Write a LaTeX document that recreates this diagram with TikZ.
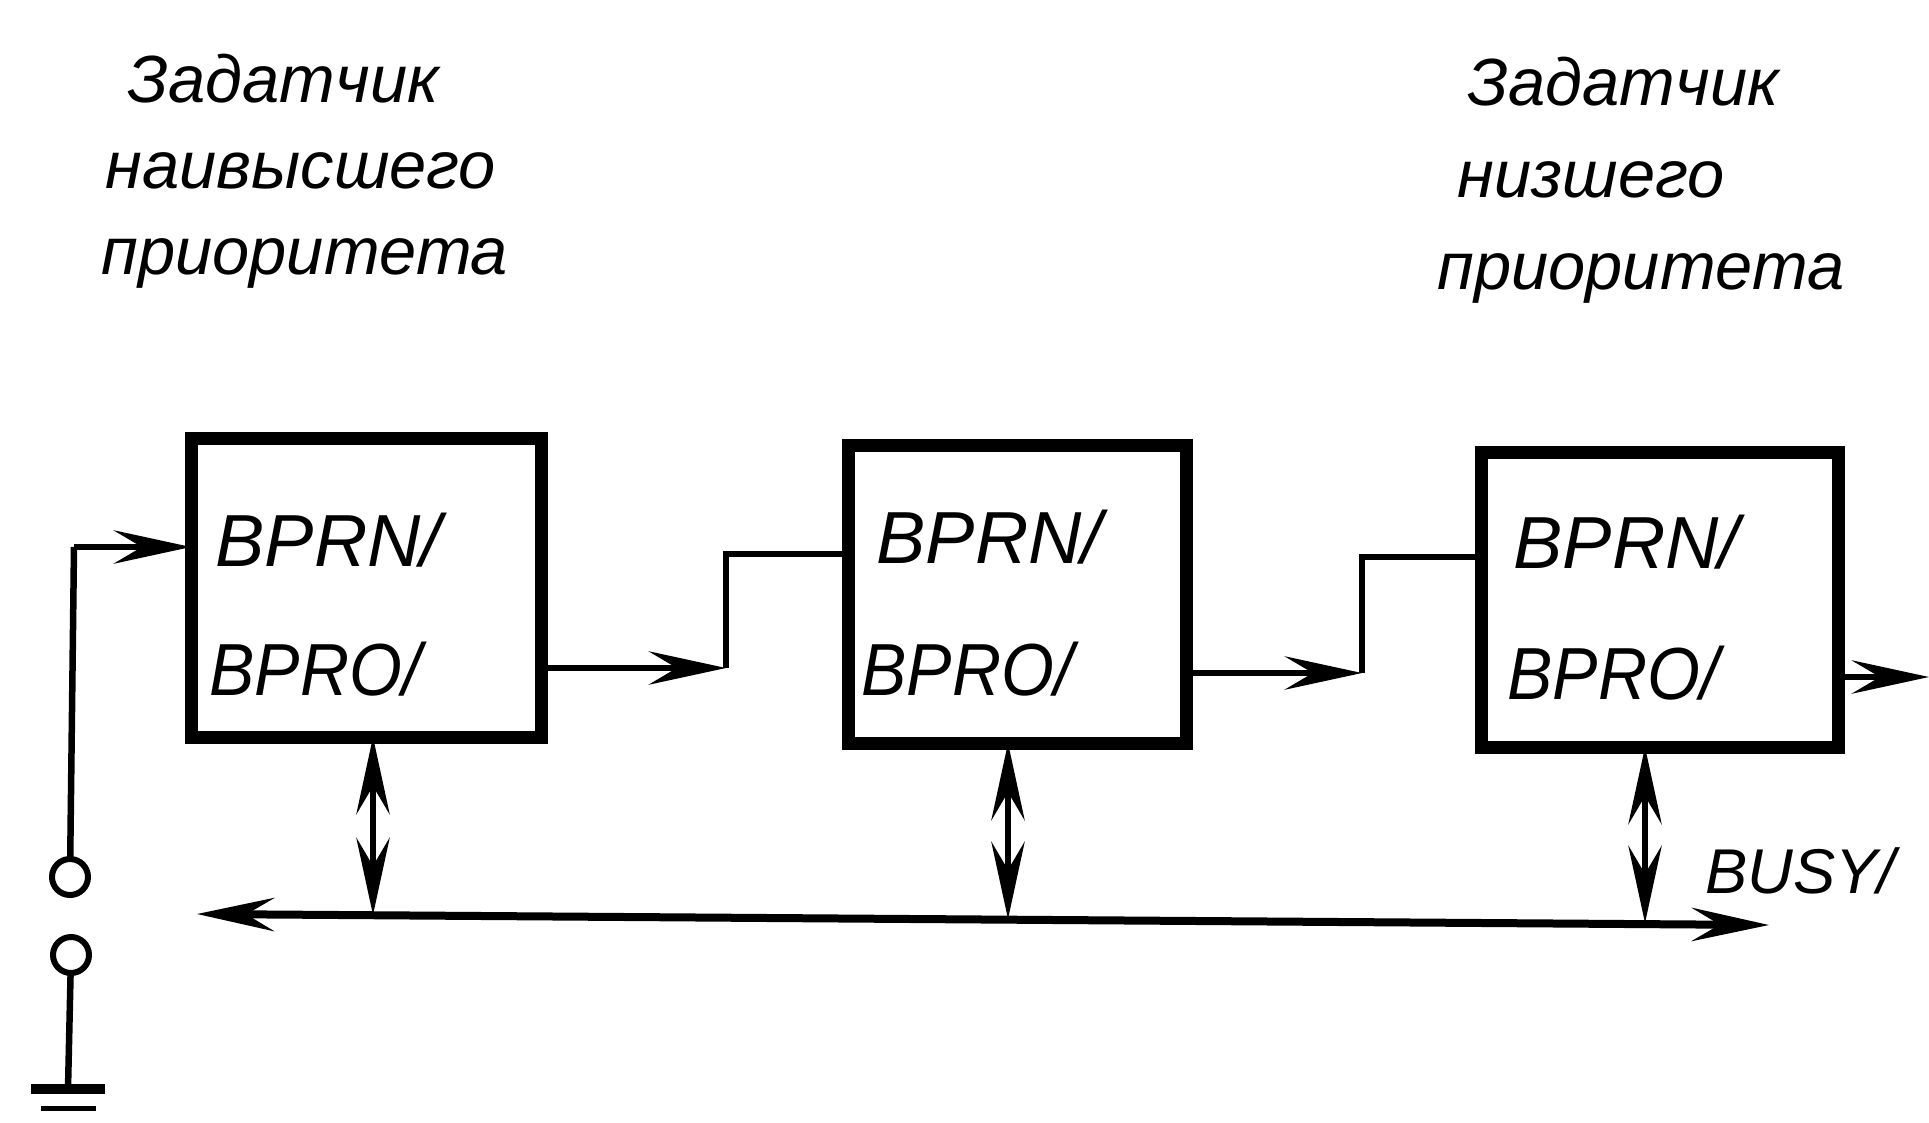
\documentclass[tikz,border=0pt]{standalone}
\usepackage{fontspec}
\setmainfont{Liberation Sans}
\usetikzlibrary{arrows.meta,positioning}
\tikzset{barb/.tip={Stealth[length=22pt,width=9.5pt,inset=8pt]}}

\begin{document}
\begin{tikzpicture}
\tikzstyle{blk}=[draw,line width=.13cm,outer sep=0pt,inner sep=0pt]
\tikzstyle{wire}=[line width=.065cm]
\tikzstyle{term}=[draw,circle,line width=.06cm,minimum size=.36cm,inner sep=0pt,outer sep=0pt]
\tikzstyle{sig}=[anchor=base west,inner sep=0pt,font=\fontsize{21}{26}\selectfont\itshape]
\tikzstyle{sigo}=[sig,xscale=.92,transform shape]
\tikzstyle{capt}=[anchor=west,inner sep=0pt,align=left,font=\fontsize{19}{24.5}\selectfont\itshape]
\useasboundingbox (0,0) rectangle (19.29,11.22);
% captions
\node[capt] (hi) at (1.01,9.51) {\hspace*{.26cm}Задатчик\\\hspace*{.04cm}наивысшего\\приоритета};
\node[capt,font=\fontsize{19}{26.2}\selectfont\itshape] (lo) at (14.37,9.42) {\hspace*{.3cm}Задатчик\\\hspace*{.2cm}низшего\\приоритета};
% blocks
\node[blk,minimum width=3.50cm,minimum height=2.99cm] (box1) at (3.66,5.345) {};
\node[blk,minimum width=3.38cm,minimum height=2.98cm] (box2) at (10.17,5.28) {};
\node[blk,minimum width=3.57cm,minimum height=2.95cm] (box3) at (16.595,5.225) {};
% signals in the blocks
\node[sig] (rn1) at (2.15,5.56) {BPRN/};
\node[sigo] (ro1) at (2.09,4.27) {BPRO/};
\node[sig] (rn2) at (8.76,5.59) {BPRN/};
\node[sigo] (ro2) at (8.61,4.27) {BPRO/};
\node[sig] (rn3) at (15.13,5.54) {BPRN/};
\node[sigo] (ro3) at (15.07,4.23) {BPRO/};
\node[sig,font=\fontsize{18}{26}\selectfont\itshape] (bsy) at (17.05,2.29) {BUSY/};
% switch and ground
\node[term] (t1) at (.70,2.45) {};
\node[term] (t2) at (.71,1.67) {};
\coordinate (gnd) at (.68,.33);
\coordinate (c1) at (.74,5.75);
\draw[wire] (t1) -- (c1);
\draw[wire,-barb] (c1) -- (c1 -| box1.west);
\draw[wire] (t2) -- (gnd);
\draw[line width=.1cm] ([xshift=-.37cm]gnd) -- ([xshift=.37cm]gnd);
\draw[line width=.05cm] ([xshift=-.27cm,yshift=-.19cm]gnd) -- ([xshift=.28cm,yshift=-.19cm]gnd);
% chain between the blocks
\coordinate (m1) at (7.26,4.54);
\coordinate (m2) at (13.62,4.49);
\coordinate (out) at (19.29,4.45);
\draw[wire,-barb] (m1 -| box1.east) -- (m1);
\draw[wire] (m1) |- ([yshift=.40cm]box2.west);
\draw[wire,-barb] (m2 -| box2.east) -- (m2);
\draw[wire] (m2) |- ([yshift=.425cm]box3.west);
\draw[wire,-barb] (out -| box3.east) -- (out);
% bus
\coordinate (busl) at (1.97,2.08);
\coordinate (busr) at (17.69,1.97);
\coordinate (b1) at (3.73,2.07);
\coordinate (b2) at (10.08,2.03);
\coordinate (b3) at (16.45,1.99);
\draw[line width=.08cm,barb-barb] (busl) -- (busr);
\draw[wire,barb-barb] (b1 |- box1.south) -- (b1);
\draw[wire,barb-barb] (b2 |- box2.south) -- (b2);
\draw[wire,barb-barb] (b3 |- box3.south) -- (b3);
\end{tikzpicture}
\end{document}
